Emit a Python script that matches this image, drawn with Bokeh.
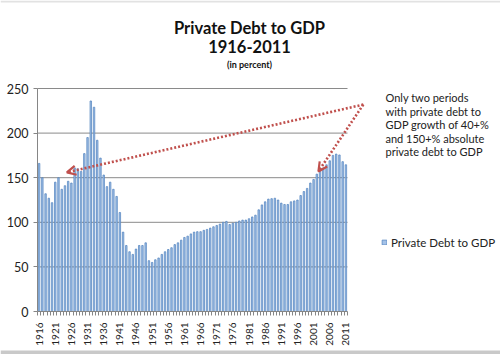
from bokeh.plotting import figure
from bokeh.models import (Range1d, FixedTicker, Arrow, OpenHead, Label, Legend,
                          LegendItem, BoxAnnotation, ColumnDataSource, LinearAxis)
from bokeh.embed import file_html
from bokeh.resources import INLINE
import math

FONT = "Lato"
W, H = 500, 354

years = list(range(1916, 2012))
debt_to_gdp = [
    166, 150, 132, 127, 122, 145, 150, 137, 141, 146,   # 1916-1925
    144, 161, 160, 157, 177, 195, 236, 229, 192, 172,   # 1926-1935
    153, 140, 145, 137, 129, 111, 89, 74, 67, 64,       # 1936-1945
    70, 74, 74, 77, 57, 55, 58, 60, 64, 67,             # 1946-1955
    69.5, 71.5, 75, 77, 80, 83, 84.5, 87, 89, 89.5,     # 1956-1965
    89.5, 91, 92, 93.5, 95, 96.5, 98, 100, 101, 97.5,   # 1966-1975
    99, 100, 101.5, 102.5, 102.5, 104, 106, 108, 114, 119.5,  # 1976-1985
    123, 126, 126.5, 127, 125, 121.5, 120, 120, 123, 124,     # 1986-1995
    125, 130, 134.5, 138, 144, 148, 154, 158, 161, 164.5,     # 1996-2005
    169, 175, 176.5, 175.5, 168, 164.5,                       # 2006-2011
]
assert len(debt_to_gdp) == len(years)

tick_years = list(range(1916, 2012, 5))
tick_labels = [str(y) for y in tick_years]
y_ticks = [0, 50, 100, 150, 200, 250]

title_lines = ["Private Debt to GDP", "1916-2011", "(in percent)"]
note_lines = ["Only two periods", "with private debt to", "GDP growth of 40+%",
              "and 150+% absolute", "private debt to GDP"]
series_name = "Private Debt to GDP"

# arrow endpoints (annotation, in data units)
arrow_start = (2016.4, 232)
arrow_tips = [(1924.6, 156), (2002.5, 157)]

# plot area placement on the canvas (pixels)
PL, PR, PT, PB = 37, 347, 88, 311
x0, x1 = years[0] - 0.5, years[-1] + 0.5
y0, y1 = y_ticks[0], y_ticks[-1]
xs = (x1 - x0) / (PR - PL)
ys = (y1 - y0) / (PB - PT)
x_range = Range1d(x0 - PL * xs, x1 + (W - PR) * xs)
y_range = Range1d(y0 - (H - PB) * ys, y1 + PT * ys)

src = ColumnDataSource(dict(year=years, value=debt_to_gdp))

p = figure(width=W, height=H, output_backend="svg", toolbar_location=None,
           x_range=x_range, y_range=y_range,
           x_axis_location=None, y_axis_location=None,
           min_border=0, min_border_left=0, min_border_right=0,
           min_border_top=0, min_border_bottom=0,
           background_fill_color="white", border_fill_color="white",
           outline_line_color=None)
p.xgrid.visible = False
p.ygrid.visible = False

# horizontal gridlines across the plot area only
p.segment(x0=[x0] * (len(y_ticks) - 1), x1=[x1] * (len(y_ticks) - 1),
          y0=y_ticks[1:], y1=y_ticks[1:], line_color="#8A8A8A", line_width=1)

bars = p.vbar(x="year", top="value", width=0.46, source=src,
              fill_color="#A4C2E8", line_color="#4F81BD", line_width=0.7)

# axes
xa = LinearAxis(fixed_location=y0, bounds=(x0, x1))
xa.ticker = FixedTicker(ticks=tick_years,
                        minor_ticks=[y - 0.5 for y in years] + [x1])
xa.major_label_overrides = {t: l for t, l in zip(tick_years, tick_labels)}
xa.major_label_orientation = math.pi / 2
xa.major_tick_out = 0
xa.major_tick_in = 0
xa.minor_tick_out = 4
xa.minor_tick_in = 0
xa.minor_tick_line_color = "#868686"
xa.axis_line_color = "#868686"
xa.major_label_standoff = 7
xa.major_label_text_font = FONT
xa.major_label_text_font_size = "10px"
xa.major_label_text_color = "#222222"
p.add_layout(xa, "below")

ya = LinearAxis(fixed_location=x0, bounds=(y0, y1))
ya.ticker = FixedTicker(ticks=y_ticks)
ya.major_tick_out = 4
ya.major_tick_in = 0
ya.minor_tick_out = 0
ya.minor_tick_in = 0
ya.major_tick_line_color = "#868686"
ya.axis_line_color = "#868686"
ya.major_label_standoff = 5
ya.major_label_text_font = FONT
ya.major_label_text_font_size = "12.5px"
ya.major_label_text_color = "#222222"
p.add_layout(ya, "left")

# arrows
red = "#C0504D"
for tx, ty in arrow_tips:
    p.add_layout(Arrow(x_start=arrow_start[0], y_start=arrow_start[1],
                       x_end=tx, y_end=ty, line_color=red, line_width=2.6,
                       line_dash="2 2",
                       end=OpenHead(line_color=red, line_width=2.2, size=9)))

# titles (screen units: x from left, y from bottom of canvas)
title_specs = [(27, "16.5px"), (46, "16.5px"), (64, "9px")]
for line, (cy, fs) in zip(title_lines, title_specs):
    p.add_layout(Label(x=249, y=H - cy, x_units="screen", y_units="screen", text=line,
                       text_align="center", text_baseline="middle",
                       text_font=FONT, text_font_style="bold",
                       text_font_size=fs, text_color="#111111"))

# note text
for i, line in enumerate(note_lines):
    p.add_layout(Label(x=385, y=H - (97 + i * 13.5), x_units="screen", y_units="screen",
                       text=line, text_align="left", text_baseline="middle",
                       text_font=FONT, text_font_size="11px", text_color="#222222"))

legend = Legend(items=[LegendItem(label=series_name, renderers=[bars])],
                location=(381, H - 249), glyph_width=6, glyph_height=6,
                label_standoff=4, padding=0, margin=0, spacing=0,
                label_height=14, border_line_alpha=0, background_fill_alpha=0,
                label_text_font=FONT, label_text_font_size="11.5px",
                label_text_color="#222222")
p.add_layout(legend, "center")

# thin grey bands at top and bottom edges of the picture
p.add_layout(BoxAnnotation(left=0, right=W, top=H, bottom=H - 2,
                           left_units="screen", right_units="screen",
                           top_units="screen", bottom_units="screen",
                           fill_color="#E2E2E2", fill_alpha=1, line_alpha=0))
p.add_layout(BoxAnnotation(left=0, right=W, top=4, bottom=0,
                           left_units="screen", right_units="screen",
                           top_units="screen", bottom_units="screen",
                           fill_color="#C9C9C9", fill_alpha=1, line_alpha=0))

open("out.html", "w").write(file_html(p, INLINE))
